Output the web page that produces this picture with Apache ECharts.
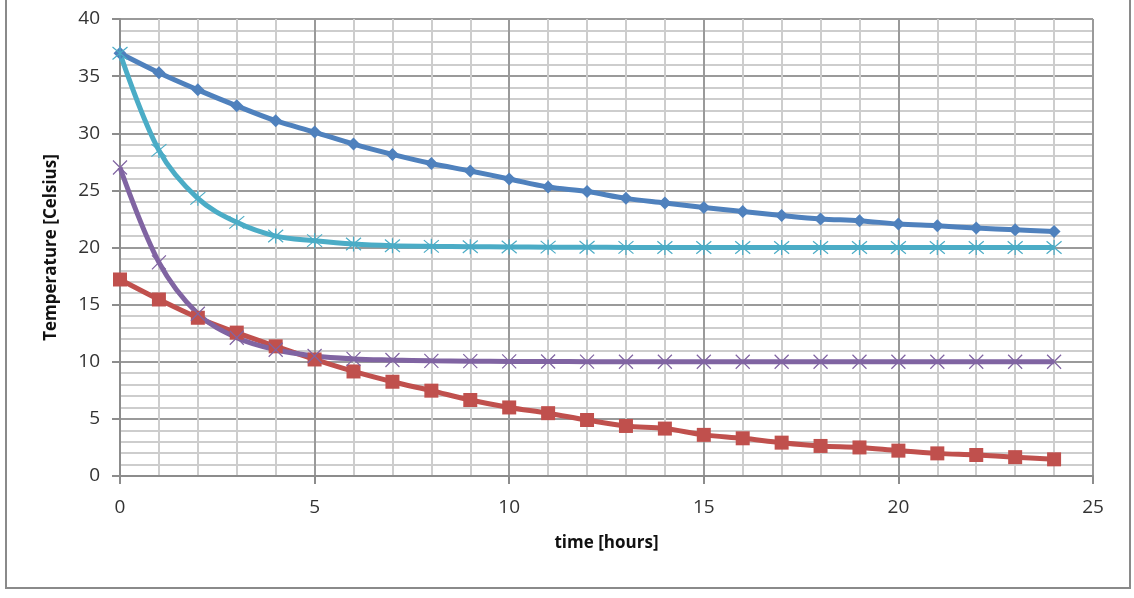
<!DOCTYPE html>
<html>
<head>
<meta charset="utf-8">
<script src="https://cdn.jsdelivr.net/npm/echarts@6/dist/echarts.min.js"></script>
<style>html,body{margin:0;padding:0;background:#fff}#c{width:1134px;height:598px}</style>
</head>
<body>
<div id="c"></div>
<script>
const hours = [0,1,2,3,4,5,6,7,8,9,10,11,12,13,14,15,16,17,18,19,20,21,22,23,24];
const blueSeries = [37.0,35.3,33.8,32.4,31.1,30.1,29.05,28.15,27.35,26.7,26.0,25.3,24.9,24.3,23.9,23.5,23.15,22.8,22.5,22.35,22.05,21.9,21.7,21.55,21.4];
const redSeries = [17.2,15.45,13.85,12.55,11.35,10.2,9.15,8.25,7.47,6.65,6.0,5.5,4.9,4.38,4.15,3.6,3.3,2.92,2.63,2.5,2.22,1.98,1.84,1.65,1.46];
const purpleSeries = [27.0,18.7,14.2,12.1,11.05,10.5,10.25,10.15,10.08,10.05,10.03,10.02,10.01,10.0,10.0,10.0,10.0,10.0,10.0,10.0,10.0,10.0,10.0,10.0,10.0];
const cyanSeries = [37.0,28.5,24.3,22.2,21.0,20.6,20.3,20.15,20.1,20.07,20.05,20.03,20.02,20.01,20.0,20.0,20.0,20.0,20.0,20.0,20.0,20.0,20.0,20.0,20.0];
const xTicks = {min:0, max:25, interval:5};
const yTicks = {min:0, max:40, interval:5};
const xTitle = 'time [hours]';
const yTitle = 'Temperature [Celsius]';

function pairs(vals){ return hours.map((h,i)=>[h, vals[i]]); }

const font = '"Open Sans", Lato, sans-serif';
const chart = echarts.init(document.getElementById('c'), null, {renderer:'canvas'});
const starPath = 'path://M0,0L10,10M10,0L0,10M5,-1L5,11';
const xPath = 'path://M0,0L10,10M10,0L0,10';

chart.setOption({
  animation:false,
  backgroundColor:'#fff',
  graphic:[{type:'rect', shape:{x:6, y:-5, width:1124, height:593}, style:{fill:'none', stroke:'#8a8a8a', lineWidth:2}, silent:true}],
  grid:{left:120, right:41, top:19, bottom:122, containLabel:false},
  xAxis:{
    type:'value', min:xTicks.min, max:xTicks.max, interval:xTicks.interval,
    name:xTitle, nameLocation:'middle', nameGap:59,
    nameTextStyle:{fontFamily:font, fontSize:17, fontWeight:'bold', color:'#111'},
    axisLine:{show:true, onZero:false, lineStyle:{color:'#8c8c8c', width:2}},
    axisTick:{show:true, length:8, lineStyle:{color:'#8c8c8c', width:2}},
    axisLabel:{margin:22, fontFamily:font, fontSize:19, color:'#333'},
    splitLine:{show:true, lineStyle:{color:'#9a9a9a', width:2}},
    minorTick:{show:false, splitNumber:5},
    minorSplitLine:{show:true, lineStyle:{color:'#cdcdcd', width:2}}
  },
  yAxis:{
    type:'value', min:yTicks.min, max:yTicks.max, interval:yTicks.interval,
    name:yTitle, nameLocation:'middle', nameGap:60,
    nameTextStyle:{fontFamily:font, fontSize:17, fontWeight:'bold', color:'#111'},
    axisLine:{show:true, lineStyle:{color:'#8c8c8c', width:2}},
    axisTick:{show:true, length:8, lineStyle:{color:'#8c8c8c', width:2}},
    axisLabel:{margin:20, fontFamily:font, fontSize:19, color:'#333'},
    splitLine:{show:true, lineStyle:{color:'#9a9a9a', width:2}},
    minorTick:{show:false, splitNumber:5},
    minorSplitLine:{show:true, lineStyle:{color:'#cdcdcd', width:2}}
  },
  series:[
    {type:'line', name:'A', data:pairs(blueSeries), smooth:0.35,
     lineStyle:{color:'#4f81bd', width:5}, symbol:'diamond', symbolSize:13,
     itemStyle:{color:'#4f81bd'}},
    {type:'line', name:'B', data:pairs(redSeries), smooth:0.35,
     lineStyle:{color:'#c0504d', width:5}, symbol:'rect', symbolSize:14,
     itemStyle:{color:'#c0504d'}},
    {type:'line', name:'C', data:pairs(purpleSeries), smooth:0.35,
     lineStyle:{color:'#8064a2', width:5}, symbol:xPath, symbolSize:14,
     itemStyle:{color:'none', borderColor:'#8064a2', borderWidth:1.2}},
    {type:'line', name:'D', data:pairs(cyanSeries), smooth:0.35,
     lineStyle:{color:'#4bacc6', width:5}, symbol:starPath, symbolSize:15,
     itemStyle:{color:'none', borderColor:'#4bacc6', borderWidth:1.2}}
  ]
});
</script>
</body>
</html>
